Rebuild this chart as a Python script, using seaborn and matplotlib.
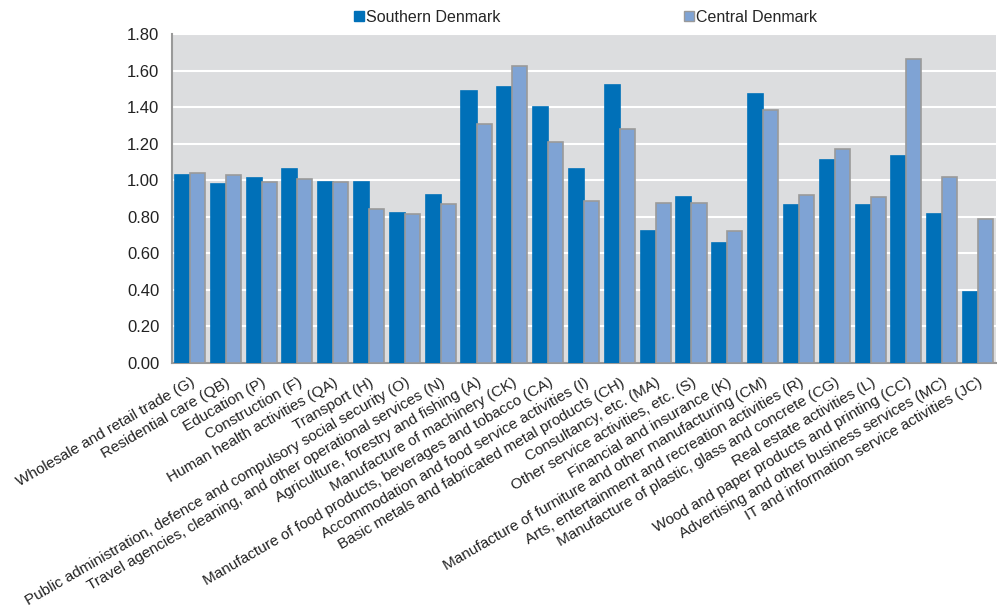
import matplotlib
matplotlib.use("Agg")
import matplotlib.pyplot as plt
import seaborn as sns
import pandas as pd
import numpy as np
from matplotlib.patches import Patch

categories = [
    "Wholesale and retail trade (G)",
    "Residential care (QB)",
    "Education (P)",
    "Construction (F)",
    "Human health activities (QA)",
    "Transport (H)",
    "Public administration, defence and compulsory social security (O)",
    "Travel agencies, cleaning, and other operational services (N)",
    "Agriculture, forestry and fishing (A)",
    "Manufacture of machinery (CK)",
    "Manufacture of food products, beverages and tobacco (CA)",
    "Accommodation and food service activities (I)",
    "Basic metals and fabricated metal products (CH)",
    "Consultancy, etc. (MA)",
    "Other service activities, etc. (S)",
    "Financial and insurance (K)",
    "Manufacture of furniture and other manufacturing (CM)",
    "Arts, entertainment and recreation activities (R)",
    "Manufacture of plastic, glass and concrete (CG)",
    "Real estate activities (L)",
    "Wood and paper products and printing (CC)",
    "Advertising and other business services (MC)",
    "IT and information service activities (JC)",
]
southern = [1.03, 0.98, 1.01, 1.06, 0.99, 0.99, 0.82, 0.92, 1.49, 1.51, 1.40, 1.06,
            1.52, 0.72, 0.91, 0.655, 1.47, 0.865, 1.11, 0.865, 1.135, 0.815, 0.39]
central = [1.04, 1.03, 0.99, 1.005, 0.99, 0.84, 0.815, 0.87, 1.305, 1.625, 1.21, 0.885,
           1.28, 0.877, 0.877, 0.72, 1.385, 0.92, 1.17, 0.907, 1.665, 1.02, 0.79]
series = ["Southern Denmark", "Central Denmark"]
yticks = [0.0, 0.2, 0.4, 0.6, 0.8, 1.0, 1.2, 1.4, 1.6, 1.8]

df = pd.DataFrame({
    "category": categories * 2,
    "value": southern + central,
    "region": [series[0]] * len(categories) + [series[1]] * len(categories),
})

sns.set_style("white")
plt.rcParams["font.family"] = ["Liberation Sans", "DejaVu Sans"]

colors = {series[0]: "#0070B8", series[1]: "#7FA3D4"}
fig = plt.figure(figsize=(9.97, 6.12), dpi=100)
ax = fig.add_axes([172 / 997, 1 - 363 / 612, (996 - 172) / 997, (363 - 34) / 612])

sns.barplot(data=df, x="category", y="value", hue="region", order=categories,
            hue_order=series, palette=colors, width=0.84, ax=ax, saturation=1,
            legend=False)

# edges
for cont, ec in zip(ax.containers, ["#0070B8", "#9a9a9a"]):
    for p in cont.patches:
        p.set_edgecolor(ec)
        p.set_linewidth(1.2)
        p.set_zorder(3)

ax.set_facecolor("#DCDDDF")
ax.set_ylim(0, 1.8)
ax.set_xlim(-0.5, len(categories) - 0.5)
ax.set_yticks(yticks)
ax.set_yticklabels([f"{t:.2f}" for t in yticks], fontsize=12, color="#222222")
ax.yaxis.grid(True, color="white", linewidth=1.5, zorder=0)
ax.set_axisbelow(True)

ax.set_xticks(range(len(categories)))
ax.set_xticklabels(categories, rotation=30, ha="right", rotation_mode="anchor",
                   fontsize=11, color="#222222")
ax.tick_params(axis="x", which="major", length=0, pad=9)
ax.set_xticks(np.arange(-0.5, len(categories), 1.0), minor=True)
ax.tick_params(axis="x", which="minor", length=5, color="#999999", width=1.2, direction="out")
ax.tick_params(axis="y", length=5, color="#999999", width=1.2, direction="out", pad=4)

for s in ["top", "right"]:
    ax.spines[s].set_visible(False)
for s in ["left", "bottom"]:
    ax.spines[s].set_color("#999999")
    ax.spines[s].set_linewidth(1.5)

ax.set_xlabel("")
ax.set_ylabel("")

handles = [Patch(facecolor=colors[series[0]], edgecolor=colors[series[0]]),
           Patch(facecolor=colors[series[1]], edgecolor="#9a9a9a")]
fig.legend(handles, series, loc="center left", bbox_to_anchor=(354 / 997, 1 - 17 / 612),
           ncol=2, frameon=False, fontsize=11.5, handlelength=0.6, handleheight=0.6,
           handletextpad=0.15, columnspacing=11.5, borderaxespad=0, borderpad=0)

fig.savefig("out.png", dpi=100, facecolor="white")
